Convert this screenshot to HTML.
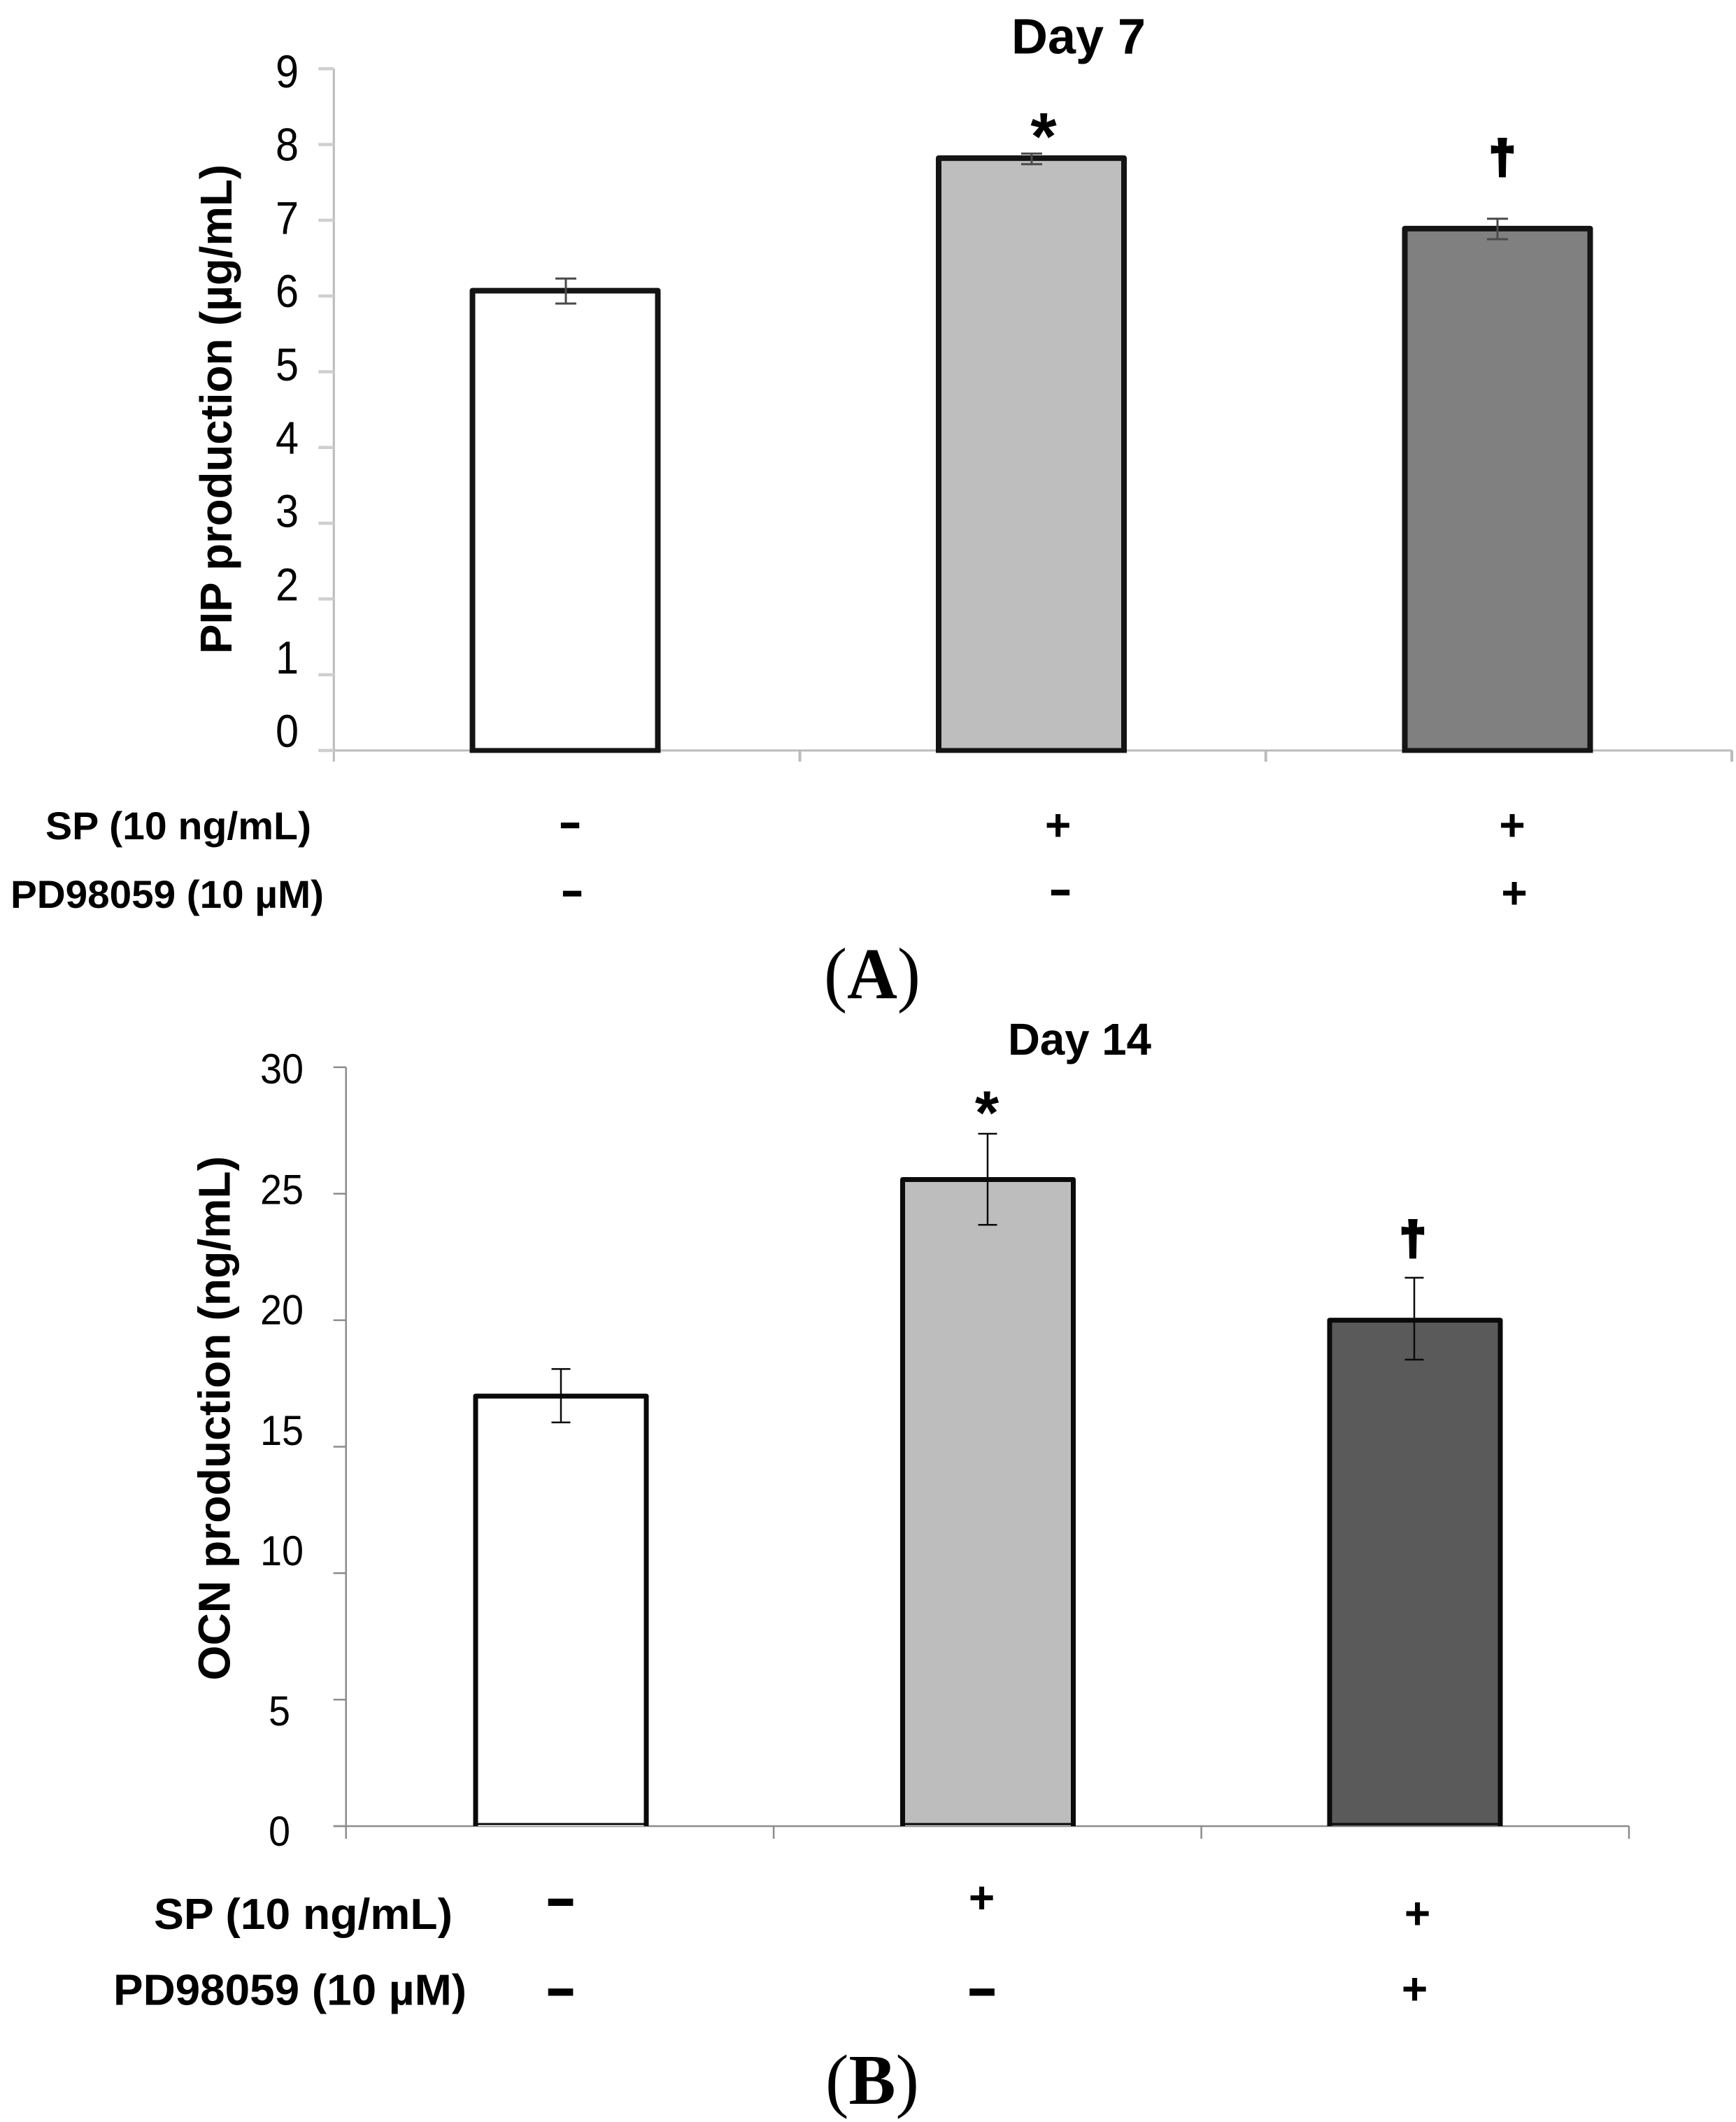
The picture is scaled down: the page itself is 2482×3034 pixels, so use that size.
<!DOCTYPE html>
<html lang="en">
<head>
<meta charset="utf-8">
<title>PIP and OCN production</title>
<style>
  html, body { margin: 0; padding: 0; background: #fff; }
  svg { display: block; }
  text { fill: #000; font-family: "Liberation Sans", sans-serif; }
  .bold { font-weight: 700; }
  .dash { font-weight: 700; stroke: #000; text-anchor: middle; }
  .plus { font-weight: 700; font-size: 64px; text-anchor: middle; }
  .dagger { font-weight: 700; stroke: #000; stroke-width: 5; text-anchor: middle; font-size: 65px; }
  .panel { font-family: "Liberation Serif", serif; }
</style>
</head>
<body>
<svg id="figure" xmlns="http://www.w3.org/2000/svg" width="2482" height="3034" viewBox="0 0 2482 3034">
  <rect width="2482" height="3034" fill="#fff"/>
  <g id="chart-a"></g>
  <g id="chart-b"></g>

  <text class="bold" x="1446" y="76.5" font-size="71" textLength="192" lengthAdjust="spacingAndGlyphs">Day 7</text>
  <text class="bold" font-size="64" transform="translate(331,935) rotate(-90)" textLength="700" lengthAdjust="spacingAndGlyphs">PIP production (µg/mL)</text>
  <text class="bold" x="1492" y="228" font-size="96" text-anchor="middle">*</text>
  <text class="dagger" x="2148" y="246.5">†</text>

  <text class="bold" x="65" y="1200" font-size="56" textLength="380" lengthAdjust="spacingAndGlyphs">SP (10 ng/mL)</text>
  <text class="bold" x="15" y="1298" font-size="56" textLength="448" lengthAdjust="spacingAndGlyphs">PD98059 (10 µM)</text>
  <text class="dash" x="815" y="1192.4" font-size="46" stroke-width="3.5">–</text>
  <text class="plus" x="1512.7" y="1201.4">+</text>
  <text class="plus" x="2162" y="1201.4">+</text>
  <text class="dash" x="818" y="1290" font-size="46" stroke-width="3.5">–</text>
  <text class="dash" x="1516" y="1288.6" font-size="46" stroke-width="3.5">–</text>
  <text class="plus" x="2165" y="1298.4">+</text>
  <text class="panel" x="1178" y="1427" font-size="104" textLength="138" lengthAdjust="spacingAndGlyphs">(<tspan font-weight="700">A</tspan>)</text>

  <text class="bold" x="1441" y="1508" font-size="64" textLength="205" lengthAdjust="spacingAndGlyphs">Day 14</text>
  <text class="bold" font-size="64" transform="translate(328.5,2402.6) rotate(-90)" textLength="749.6" lengthAdjust="spacingAndGlyphs">OCN production (ng/mL)</text>
  <text class="bold" x="1411" y="1621" font-size="88" text-anchor="middle">*</text>
  <text class="dagger" x="2020" y="1792.5">†</text>

  <text class="bold" x="220" y="2758" font-size="62" textLength="427" lengthAdjust="spacingAndGlyphs">SP (10 ng/mL)</text>
  <text class="bold" x="162" y="2866.5" font-size="62" textLength="505" lengthAdjust="spacingAndGlyphs">PD98059 (10 µM)</text>
  <text class="dash" x="801.5" y="2737" font-size="64" stroke-width="4">–</text>
  <text class="plus" x="1403.5" y="2735">+</text>
  <text class="plus" x="2026.5" y="2757.4">+</text>
  <text class="dash" x="801.5" y="2865.3" font-size="64" stroke-width="4">–</text>
  <text class="dash" x="1404" y="2865.3" font-size="64" stroke-width="4">–</text>
  <text class="plus" x="2022.5" y="2865.4">+</text>
  <text class="panel" x="1180" y="3008" font-size="102" textLength="134" lengthAdjust="spacingAndGlyphs">(<tspan font-weight="700">B</tspan>)</text>
</svg>

<script>
const categories = ['control', 'sp', 'sp-pd98059'];

const pipTicks = [0, 1, 2, 3, 4, 5, 6, 7, 8, 9];
const pipValues = [6.07, 7.82, 6.89];
const pipErrorLow = [5.90, 7.74, 6.75];
const pipErrorHigh = [6.23, 7.88, 7.02];
const pipFills = ['#ffffff', '#bebebe', '#808080'];

const ocnTicks = [0, 5, 10, 15, 20, 25, 30];
const ocnValues = [17.0, 25.56, 20.0];
const ocnErrorLow = [15.96, 23.77, 18.44];
const ocnErrorHigh = [18.07, 27.37, 21.68];
const ocnFills = ['#ffffff', '#bdbdbd', '#5a5a5a'];

const SVG_NS = 'http://www.w3.org/2000/svg';

function make(parent, tag, attrs) {
  const el = document.createElementNS(SVG_NS, tag);
  for (const key in attrs) el.setAttribute(key, attrs[key]);
  parent.appendChild(el);
  return el;
}

function drawChart(root, prefix, cfg) {
  const yScale = v => cfg.y0 - v * cfg.unit;
  const tickCount = categories.length;
  const xTick = i => cfg.axisX + i * (cfg.axisEnd - cfg.axisX) / tickCount;
  const maxTick = Math.max.apply(null, cfg.ticks);

  // axes (underneath the bars)
  const yAxis = make(root, 'line', { x1: cfg.axisX, x2: cfg.axisX, y1: yScale(maxTick), y2: cfg.y0 + cfg.tickDown, stroke: cfg.axisColor, 'stroke-width': cfg.axisWidth });
  
  
  const xAxis = make(root, 'line', { x1: cfg.axisX - cfg.tickLeft, x2: cfg.axisEnd, y1: cfg.y0, y2: cfg.y0, stroke: cfg.axisColor, 'stroke-width': cfg.axisWidth });
  
  

  cfg.ticks.forEach(v => {
    const tick = make(root, 'line', { x1: cfg.axisX - cfg.tickLeft, x2: cfg.axisX, y1: yScale(v), y2: yScale(v), stroke: cfg.tickColor, 'stroke-width': cfg.tickWidth });
    
    
    const label = make(root, 'text', {
      transform: 'translate(' + cfg.labelRight(v) + ',' + cfg.labelY(v) + ') scale(' + cfg.labelScale + ',1)',
      'text-anchor': 'end', 'font-size': cfg.labelSize
    });
    
    
    label.textContent = String(v);
  });

  for (let i = 1; i <= tickCount; i++) {
    const tick = make(root, 'line', { x1: xTick(i), x2: xTick(i), y1: cfg.y0, y2: cfg.y0 + cfg.tickDown, stroke: cfg.axisColor, 'stroke-width': cfg.xTickWidth });
    
    
  }

  // bars
  categories.forEach((cat, i) => {
    const cx = cfg.barX(i);
    const left = cx - cfg.barWidth / 2;
    const right = cx + cfg.barWidth / 2;
    const top = yScale(cfg.values[i]);
    const fill = make(root, 'rect', { x: left, y: top, width: cfg.barWidth, height: cfg.y0 - top, fill: cfg.fills[i] });
    
    
    const outline = make(root, 'path', {
      d: 'M' + left + ' ' + cfg.y0 + 'V' + top + 'H' + right + 'V' + cfg.y0,
      fill: 'none', stroke: cfg.barStroke, 'stroke-width': cfg.barStrokeWidth, 'stroke-linejoin': 'round'
    });
    
    
    const bottom = make(root, 'line', {
      x1: left - cfg.barStrokeWidth / 2, x2: right + cfg.barStrokeWidth / 2, y1: cfg.y0 - cfg.bottomInset, y2: cfg.y0 - cfg.bottomInset,
      stroke: cfg.barStroke, 'stroke-width': cfg.bottomWidth
    });
    
    
  });

  // error bars
  categories.forEach((cat, i) => {
    const cx = cfg.errX(i);
    const hi = yScale(cfg.errorHigh[i]);
    const lo = yScale(cfg.errorLow[i]);
    const half = cfg.capWidth / 2;
    const err = make(root, 'path', {
      d: 'M' + cx + ' ' + hi + 'V' + lo + 'M' + (cx - half) + ' ' + hi + 'H' + (cx + half) + 'M' + (cx - half) + ' ' + lo + 'H' + (cx + half),
      fill: 'none', stroke: cfg.errColor, 'stroke-width': cfg.errWidth
    });
    
    
  });
}

drawChart(document.getElementById('chart-a'), 'pip', {
  ticks: pipTicks, values: pipValues, errorLow: pipErrorLow, errorHigh: pipErrorHigh, fills: pipFills,
  y0: 1073, unit: 108.3,
  axisX: 477.3, axisEnd: 2476, tickLeft: 22, tickDown: 16,
  axisColor: '#bbbbbb', axisWidth: 3, xTickWidth: 4, tickColor: '#cfcfcf', tickWidth: 4.5,
  barX: i => 808 + 666.5 * i, barWidth: 265, barStroke: '#141414', barStrokeWidth: 8, bottomWidth: 7, bottomInset: 0,
  errX: i => 809 + 666 * i, capWidth: 30, errColor: '#4a4a4a', errWidth: 3,
  labelRight: () => 427, labelY: v => 1068 - v * 104.8, labelSize: 66, labelScale: 0.9
});

drawChart(document.getElementById('chart-b'), 'ocn', {
  ticks: ocnTicks, values: ocnValues, errorLow: ocnErrorLow, errorHigh: ocnErrorHigh, fills: ocnFills,
  y0: 2611, unit: 36.17,
  axisX: 494.7, axisEnd: 2329, tickLeft: 18, tickDown: 18,
  axisColor: '#8c8c8c', axisWidth: 2.5, xTickWidth: 2.5, tickColor: '#8c8c8c', tickWidth: 2.5,
  barX: i => 802 + 610.5 * i, barWidth: 244, barStroke: '#0a0a0a', barStrokeWidth: 7, bottomWidth: 3, bottomInset: 3,
  errX: i => 802 + 610 * i, capWidth: 27, errColor: '#0a0a0a', errWidth: 2.5,
  labelRight: v => (v < 10 ? 415 : 434), labelY: v => (v < 10 ? 2639 : 2582.5) - v * 34.45, labelSize: 60, labelScale: 0.93
});
</script>
</body>
</html>
